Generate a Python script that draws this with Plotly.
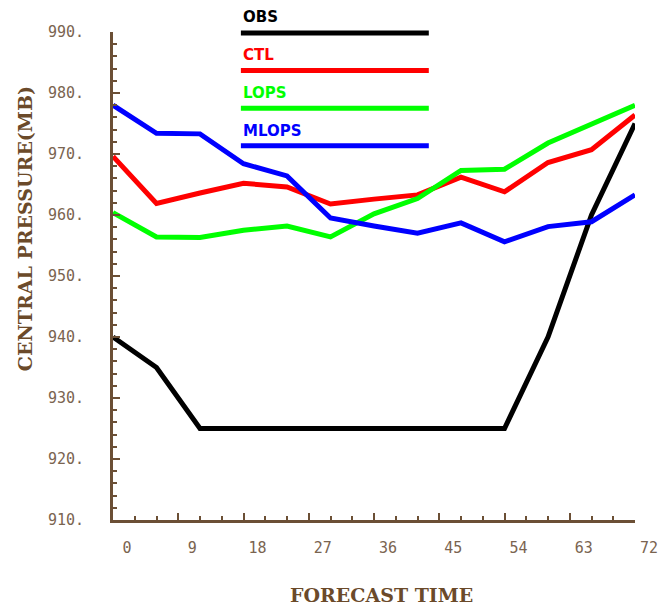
import plotly.graph_objects as go

# Forecast hours (every 6 h) and central pressure (mb) for each run
hours = [0, 6, 12, 18, 24, 30, 36, 42, 48, 54, 60, 66, 72]
obs   = [940, 935, 925, 925, 925, 925, 925, 925, 925, 925, 940, 960, 975]
ctl   = [969.6, 961.9, 963.6, 965.2, 964.6, 961.8, 962.6, 963.3, 966.2, 963.8, 968.6, 970.7, 976.4]
lops  = [960.4, 956.4, 956.3, 957.5, 958.2, 956.4, 960.2, 962.7, 967.3, 967.5, 971.8, 974.8, 978.0]
mlops = [978.0, 973.4, 973.3, 968.4, 966.4, 959.5, 958.2, 957.0, 958.7, 955.6, 958.1, 958.9, 963.3]

names = ["OBS", "CTL", "LOPS", "MLOPS"]
series = [obs, ctl, lops, mlops]
colors = ["#000000", "#ff0000", "#00ff00", "#0000ff"]

BROWN = "#6b4f35"
LABEL = "#7a6450"
TITLE = "#6b4a2a"

fig = go.Figure()
for name, vals, col in zip(names, series, colors):
    fig.add_trace(go.Scatter(x=hours, y=vals, mode="lines", name=name,
                             line=dict(color=col, width=5),
                             showlegend=False))

# Hand-drawn key: name above a thick colour bar
key_text_y = [1.030, 0.952, 0.876, 0.798]
key_line_y = [0.998, 0.921, 0.8436, 0.767]
for name, col, ty, ly in zip(names, colors, key_text_y, key_line_y):
    fig.add_shape(type="line", xref="paper", yref="paper",
                  x0=0.245, x1=0.605, y0=ly, y1=ly,
                  line=dict(color=col, width=5))
    fig.add_annotation(xref="paper", yref="paper", x=0.245, y=ty,
                       text="<b>%s</b>" % name, showarrow=False,
                       xanchor="left", yanchor="middle",
                       font=dict(family="DejaVu Sans", size=15, color=col))

fig.add_annotation(xref="paper", yref="paper", x=-0.1686, y=0.598,
                   text="<b>CENTRAL PRESSURE(MB)</b>", textangle=-90,
                   showarrow=False, xanchor="center", yanchor="middle",
                   font=dict(family="DejaVu Serif", size=19, color=TITLE))
fig.add_annotation(xref="paper", yref="paper", x=0.515, y=-0.154,
                   text="<b>FORECAST TIME</b>",
                   showarrow=False, xanchor="center", yanchor="middle",
                   font=dict(family="DejaVu Serif", size=19, color=TITLE))

tick_font = dict(family="DejaVu Sans Mono", size=15, color=LABEL)

fig.update_xaxes(range=[0, 72], tickmode="linear", tick0=0, dtick=9,
                 ticks="inside", ticklen=7, tickwidth=2, tickcolor=BROWN,
                 minor=dict(tickmode="linear", tick0=0, dtick=3, ticks="inside",
                            ticklen=4, tickwidth=2, tickcolor=BROWN),
                 showline=True, linewidth=3, linecolor=BROWN,
                 showgrid=False, zeroline=False, automargin=False,
                 tickfont=tick_font, ticklabelshift=14, ticklabelstandoff=12)
fig.update_yaxes(range=[910, 990], tickmode="linear", tick0=910, dtick=10,
                 ticksuffix=".",
                 ticks="inside", ticklen=7, tickwidth=2, tickcolor=BROWN,
                 minor=dict(tickmode="linear", tick0=910, dtick=2, ticks="inside",
                            ticklen=4, tickwidth=2, tickcolor=BROWN),
                 showline=True, linewidth=3, linecolor=BROWN,
                 showgrid=False, zeroline=False, automargin=False,
                 tickfont=tick_font, ticklabelstandoff=23)

fig.update_layout(width=660, height=606,
                  margin=dict(l=113, r=25, t=32, b=86),
                  paper_bgcolor="white", plot_bgcolor="white")

fig.write_html("out.html")
